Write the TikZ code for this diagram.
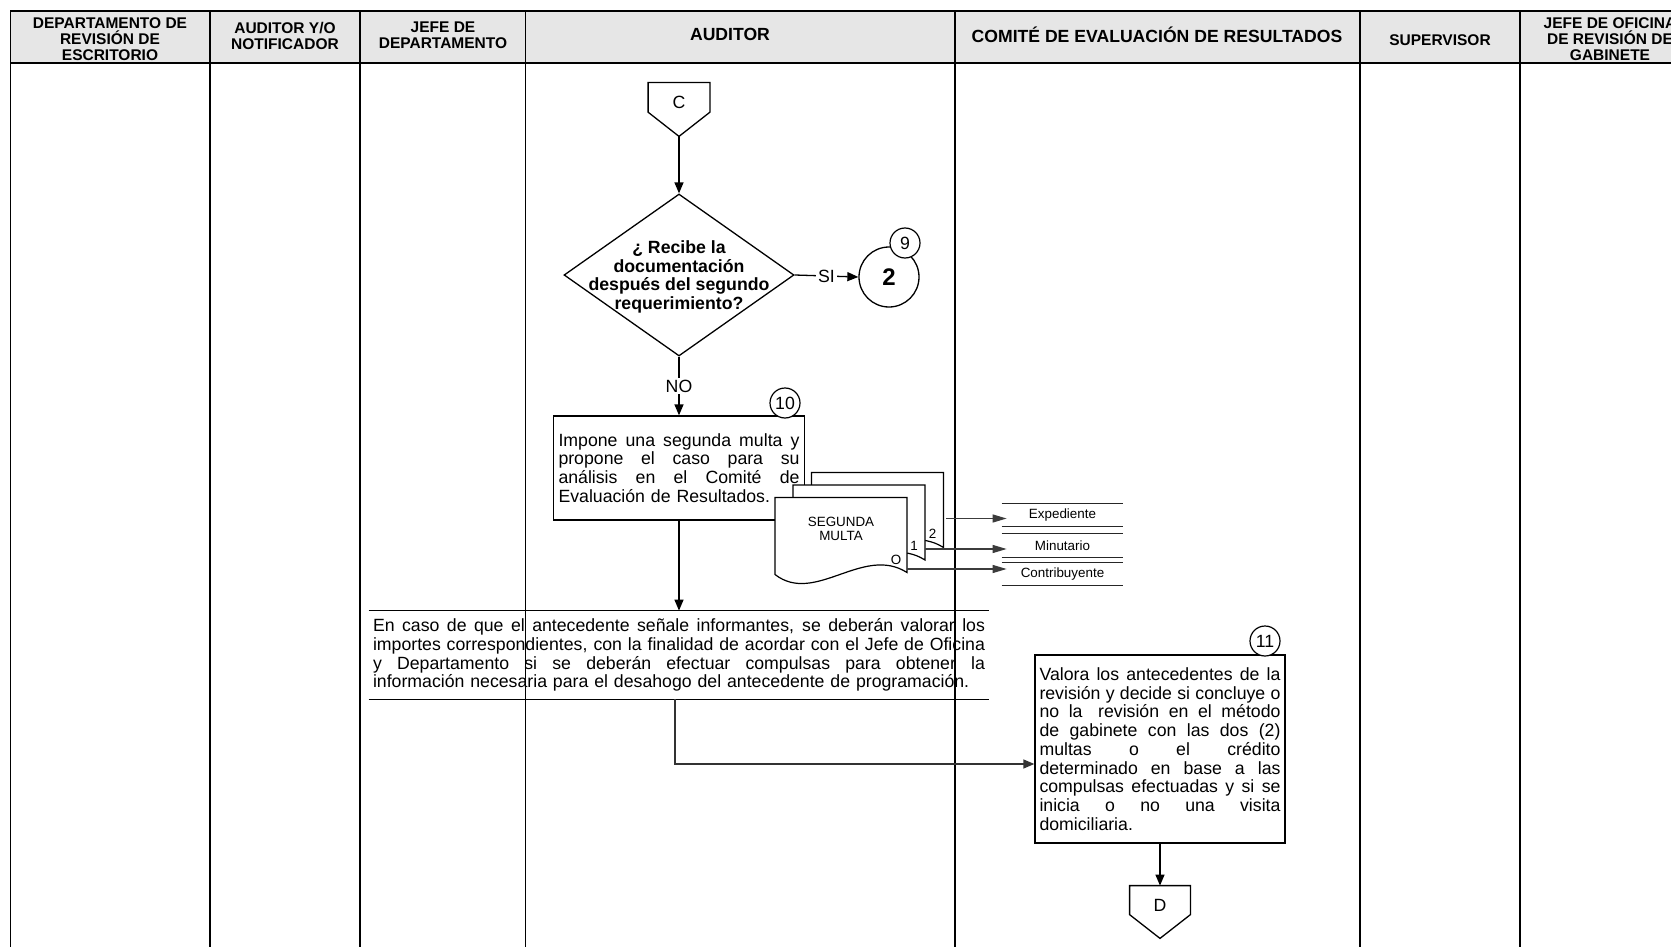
\documentclass[tikz,border=0pt]{standalone}
\usepackage{fontspec}
\setmainfont{Liberation Sans}
\usetikzlibrary{shapes.geometric,arrows.meta,calc}
\definecolor{headgray}{RGB}{230,230,230}
\definecolor{darkline}{RGB}{60,60,60}
\newcommand\fbody{\fontsize{8.85pt}{9.35pt}\selectfont}
\newcommand\fhs{\bfseries\fontsize{7.75pt}{8pt}\selectfont}
\newcommand\fhb{\bfseries\fontsize{8.8pt}{9pt}\selectfont}
\newcommand\fsm{\fontsize{6.7pt}{7pt}\selectfont}
\newcommand\jl[2]{{\spaceskip=0pt\xspaceskip=0pt\makebox[#1][s]{#2}}}
\newcommand\offpage[1]{\draw[line width=0.65pt] (#1.north west) -- (#1.north east) -- ($(#1.north east)!0.55!(#1.south east)$) -- (#1.south) -- ($(#1.north west)!0.55!(#1.south west)$) -- cycle;}
\begin{document}
\begin{tikzpicture}[x=0.5pt,y=-0.5pt,
  lanel/.style={line width=0.65pt},
  arr/.style={line width=0.65pt, -{Triangle[length=5.5pt,width=4.5pt]}},
  sarr/.style={line width=0.6pt, draw=darkline, -{Triangle[length=7pt,width=4pt]}},
  hs/.style={font=\fhs, align=center, inner sep=0pt},
  hb/.style={font=\fhb, align=center, inner sep=0pt},
  box/.style={draw, line width=0.65pt, inner sep=0pt, font=\fbody, align=left},
  num/.style={draw, circle, fill=white, line width=0.6pt, minimum size=15pt, inner sep=0pt, font=\fbody},
  lbl/.style={font=\fbody, fill=white, inner sep=1pt},
  store/.style={inner sep=0pt, minimum width=60.5pt, minimum height=11pt, font=\fsm},
  storeline/.style={line width=0.55pt, draw=black!85},
  page/.style={draw, fill=white, line width=0.6pt},
  opbox/.style={minimum width=30.5pt, minimum height=26.5pt, inner sep=0pt}
]
\useasboundingbox (0,0) rectangle (1671,947);
\clip (0,0) rectangle (1671,947);
% lanes and header
\fill[headgray] (10.7,10.7) rectangle (1700,63);
\foreach \xx in {10.7,210,360,525.5,955,1360,1520} {\draw[lanel] (\xx,10.7) -- (\xx,960);}
\draw[lanel] (10.7,63) -- (1700,63);
\draw[line width=1.1pt] (10.2,10.7) -- (1700,10.7);
\node[hs] (h1) at (110,39.4) {DEPARTAMENTO DE\\REVISIÓN DE\\ESCRITORIO};
\node[hs] (h2) at (285,35.6) {AUDITOR Y/O\\NOTIFICADOR};
\node[hs] (h3) at (443,35.6) {JEFE DE\\DEPARTAMENTO};
\node[hb] (h4) at (730,34.6) {AUDITOR};
\node[hb] (h5) at (1157,34.6) {COMITÉ DE EVALUACIÓN DE RESULTADOS};
\node[hs] (h6) at (1440,40) {SUPERVISOR};
\node[hs] (h7) at (1610,39.4) {JEFE DE OFICINA\\DE REVISIÓN DE\\GABINETE};
% connector C
\node[opbox] (Cc) at (679,109.5) {};
\offpage{Cc}
\node[font=\fbody, inner sep=0pt] (Ct) at (679,102) {C};
% decision
\node[draw, diamond, minimum width=115pt, minimum height=81pt, inner sep=0pt, line width=0.65pt] (dec) at (679,275) {};
\node[font=\bfseries\fontsize{8.85pt}{9.25pt}\selectfont, align=center, inner sep=0pt] (dect) at (679,277) {¿ Recibe la\\documentación\\después del segundo\\requerimiento?};
\draw[arr] (Cc.south) -- (dec.north);
\node[draw, circle, minimum size=30pt, inner sep=0pt, line width=0.65pt, font=\bfseries\fontsize{12pt}{12pt}\selectfont] (c2) at (889,277) {2};
\node[num] (n9) at (905,243) {9};
\draw[arr] (dec.east) -- node[lbl] (si) {SI} (c2.west);
% box 10
\node[box, minimum width=125.5pt, minimum height=52pt, text width=120.5pt] (b10) at (679,468) {\jl{120.5pt}{Impone una segunda multa y}\\\jl{120.5pt}{propone el caso para su}\\\jl{120.5pt}{análisis en el Comité de}\\Evaluación de Resultados.};
\node[num] (n10) at (785,403) {10};
\draw[arr] (dec.south) -- node[lbl] (no) {NO} (b10.north);
% document stack
\foreach \px/\py/\lab/\ly in {811.5/472.5/2/61, 793/485/1/61, 775/497.5/O/62.5} {
  \begin{scope}[shift={(\px,\py)}]
    \draw[page] (0,0) -- (132,0) -- (132,75) .. controls (88,47) and (40,108) .. (0,77) -- cycle;
    \node[font=\fsm, inner sep=0pt] (pg\lab) at (121,\ly) {\lab};
  \end{scope}
}
\node[font=\fsm, align=center, inner sep=0pt] (sm) at (841,529) {SEGUNDA\\MULTA};
\coordinate (o2) at (946,518.5);
\coordinate (o1) at (925,549);
\coordinate (o0) at (907,569);
\node[store] (exp) at (1062.5,515) {Expediente};
\node[store, minimum height=11.5pt] (mnt) at (1062.5,545.5) {Minutario};
\node[store] (cnt) at (1062.5,574) {Contribuyente};
\foreach \s in {exp,mnt,cnt} {\draw[storeline] (\s.north west) -- (\s.north east) (\s.south west) -- (\s.south east);}
\draw[sarr] (o2) -- ($(o2 -| exp.west)+(5,0)$);
\draw[sarr] (o1) -- ($(o1 -| mnt.west)+(5,0)$);
\draw[sarr] (o0) -- ($(o0 -| cnt.west)+(5,0)$);
% annotation
\node[inner sep=0pt, minimum width=310pt, minimum height=44pt, text width=306pt, align=left, font=\fbody] (ann) at (679,655) {\jl{306pt}{En caso de que el antecedente señale informantes, se deberán valorar los}\\\jl{306pt}{importes correspondientes, con la finalidad de acordar con el Jefe de Oficina}\\\jl{306pt}{y Departamento si se deberán efectuar compulsas para obtener la}\\información necesaria para el desahogo del antecedente de programación.};
\draw[lanel] (ann.north west) -- (ann.north east) (ann.south west) -- (ann.south east);
\draw[arr] (b10.south) -- (ann.north);
% box 11
\node[box, minimum width=125pt, minimum height=94pt, text width=120.5pt] (b11) at (1160,749) {\jl{120.5pt}{Valora los antecedentes de la}\\\jl{120.5pt}{revisión y decide si concluye o}\\\jl{120.5pt}{no la\hspace{3pt} revisión en el método}\\\jl{120.5pt}{de gabinete con las dos (2)}\\\jl{120.5pt}{multas o el crédito}\\\jl{120.5pt}{determinado en base a las}\\\jl{120.5pt}{compulsas efectuadas y si se}\\\jl{120.5pt}{inicia o no una visita}\\domiciliaria.};
\node[num] (n11) at (1265,641) {11};
\draw[arr, draw=black!80] ([xshift=-2pt]ann.south) |- ([yshift=-7.5pt]b11.west);
% connector D
\node[opbox, minimum width=30pt, minimum height=26pt] (Dd) at (1160,912) {};
\offpage{Dd}
\node[font=\fbody, inner sep=0pt] (Dt) at (1160,905) {D};
\draw[arr] (b11.south) -- (Dd.north);
\end{tikzpicture}
\end{document}
